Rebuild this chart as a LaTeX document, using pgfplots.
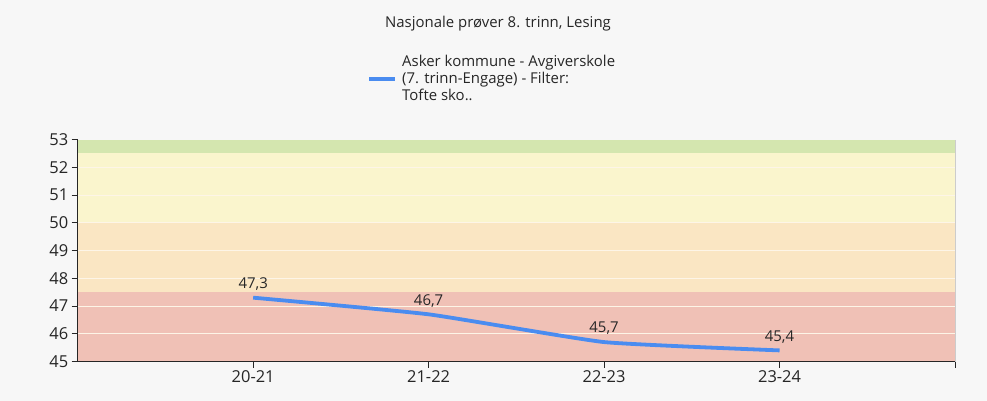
\documentclass[border=0pt]{standalone}
\usepackage{pgfplots}
\pgfplotsset{compat=1.18}
\usepackage{fontspec}
\setmainfont{Open Sans}
\definecolor{bgc}{RGB}{247,247,247}
\definecolor{bandred}{RGB}{240,193,182}
\definecolor{bandorange}{RGB}{250,230,195}
\definecolor{bandyellow}{RGB}{250,245,205}
\definecolor{bandgreen}{RGB}{212,230,175}
\definecolor{lineblue}{RGB}{74,140,240}
\begin{document}
\begin{tikzpicture}
\fill[bgc] (0bp,0bp) rectangle (987bp,401bp);
\node[anchor=base, inner sep=0pt, font=\fontsize{15}{17}\selectfont, text=black!85] at (498bp,373.5bp) {Nasjonale prøver 8. trinn, Lesing};
\begin{axis}[
  clip=false,
  at={(77.7bp,39.5bp)}, anchor=south west,
  scale only axis, width=877.3bp, height=222bp,
  xmin=-1, xmax=4, ymin=45, ymax=53,
  xtick={0,1,2,3}, xticklabels={20-21,21-22,22-23,23-24},
  extra x ticks={4}, extra x tick labels={},
  ytick={45,...,53},
  axis x line*=bottom, axis y line*=left,
  axis line style={black!85, line width=1.5bp},
  tick align=outside, major tick length=6bp,
  tick style={black!85, line width=1bp},
  tick label style={font=\fontsize{16.5}{18}\selectfont, text=black!85},
  /pgf/number format/assume math mode=true,
]
\addplot[fill=bandred, draw=none] coordinates {(-1,45) (4,45) (4,47.5) (-1,47.5)} -- cycle;
\addplot[fill=bandorange, draw=none] coordinates {(-1,47.5) (4,47.5) (4,50) (-1,50)} -- cycle;
\addplot[fill=bandyellow, draw=none] coordinates {(-1,50) (4,50) (4,52.5) (-1,52.5)} -- cycle;
\addplot[fill=bandgreen, draw=none] coordinates {(-1,52.5) (4,52.5) (4,53) (-1,53)} -- cycle;
\foreach \g in {46,47,48,49,50,51,52}{
  \edef\tmp{\noexpand\draw[white!60!bandorange, line width=1bp] (axis cs:-1,\g) -- (axis cs:4,\g);}\tmp
}
\addplot[lineblue, line width=3.8bp, smooth, tension=0.25,
  nodes near coords, point meta=explicit,
  every node near coord/.style={font=\fontsize{15}{17}\selectfont, text=black!85, anchor=south, yshift=2bp},
  /pgf/number format/.cd, use comma, fixed, fixed zerofill, precision=1]
  coordinates {(0,47.3)[47.3] (1,46.7)[46.7] (2,45.7)[45.7] (3,45.4)[45.4]};
\draw[black!20, line width=1bp] (rel axis cs:1,0) -- (rel axis cs:1,1);
\draw[black!85, line width=1.5bp] (rel axis cs:0,1) -- (rel axis cs:0,0) -- (rel axis cs:1,0);
\end{axis}
\draw[lineblue, line width=3.8bp] (369bp,322bp) -- (395bp,322bp);
\node[anchor=base west, align=left, inner sep=0pt, font=\fontsize{15}{16.7}\selectfont, text=black!85] at (402bp,300.9bp) {Asker kommune - Avgiverskole\\(7. trinn-Engage) - Filter:\\Tofte sko..};
\end{tikzpicture}
\end{document}
